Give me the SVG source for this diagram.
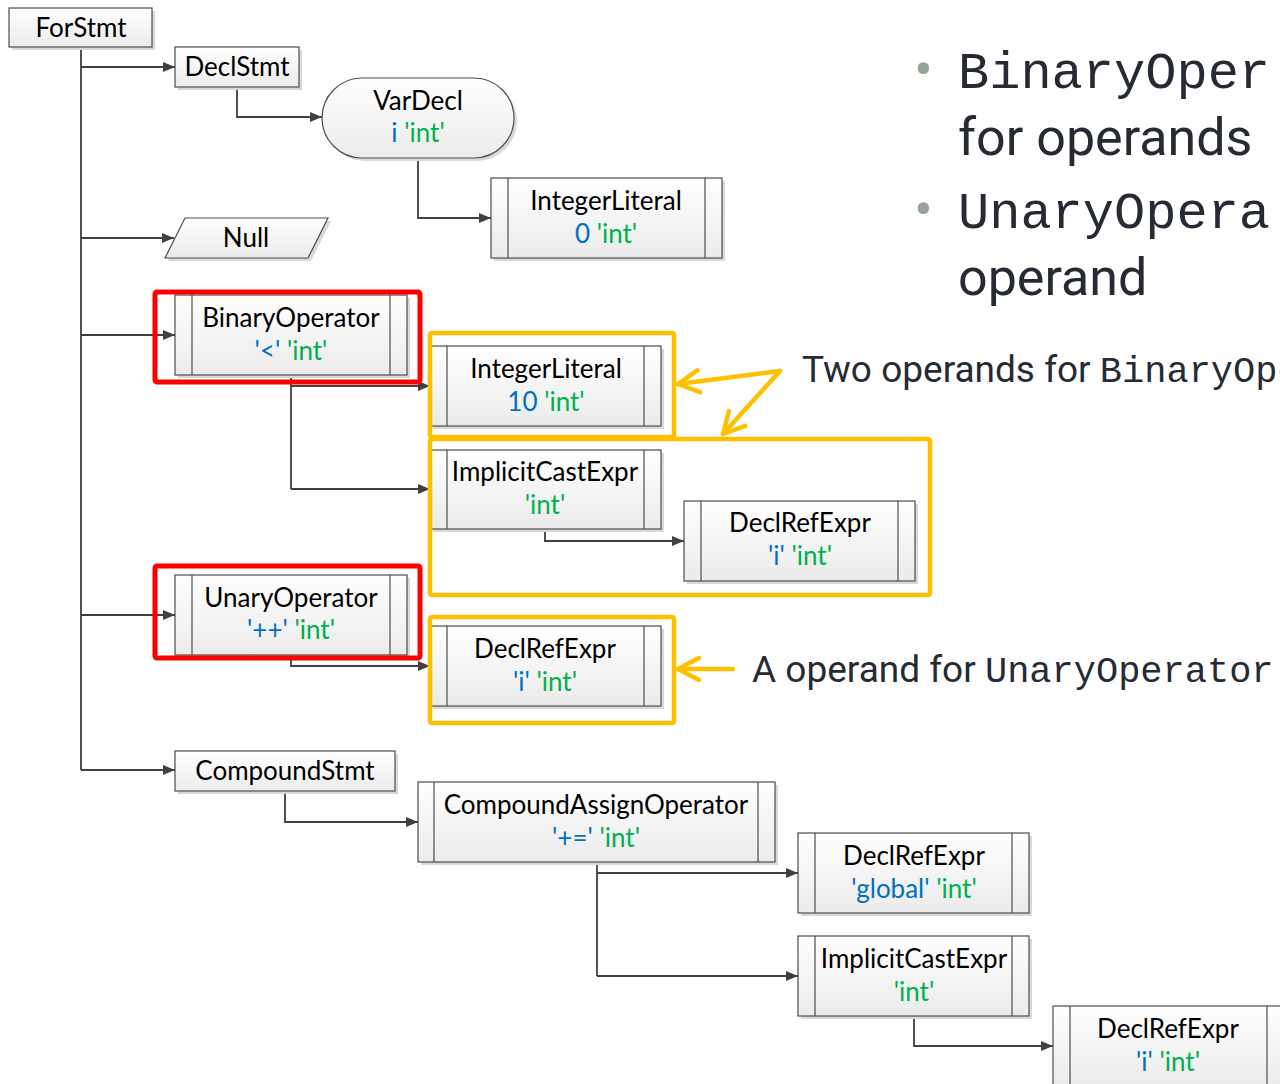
<svg xmlns="http://www.w3.org/2000/svg" width="1280" height="1084" viewBox="0 0 1280 1084">
  <defs>
    <linearGradient id="boxFill" x1="0" y1="0" x2="0" y2="1">
      <stop offset="0" stop-color="#ffffff"/>
      <stop offset="1" stop-color="#ebebeb"/>
    </linearGradient>
    <marker id="arrow" viewBox="0 0 12 10" refX="12" refY="5" markerWidth="12" markerHeight="10" markerUnits="userSpaceOnUse" orient="auto">
      <path d="M0,0 L12,5 L0,10 z" fill="#404040"/>
    </marker>
    <marker id="chevron" viewBox="-26 -14 30 28" refX="0" refY="0" markerWidth="30" markerHeight="28" markerUnits="userSpaceOnUse" orient="auto">
      <path d="M-21,-11 L0,0 L-21,11" fill="none" stroke="#FFC000" stroke-width="4.5" stroke-linecap="round" stroke-linejoin="round"/>
    </marker>
  </defs>
  <style>
    .box { fill: url(#boxFill); stroke: #4d4d4d; stroke-width: 1.2; }
    .shadow { fill: #d9d9d9; }
    .bar { stroke: #4d4d4d; stroke-width: 1.2; }
    .lbl { font-family: Lato, "Liberation Sans", sans-serif; font-size: 26px; fill: #000; text-anchor: middle; }
    .blue { fill: #0070C0; }
    .green { fill: #00B050; }
    .edge { fill: none; stroke: #404040; stroke-width: 1.8; }
    .edge-arrow { fill: none; stroke: #404040; stroke-width: 1.8; marker-end: url(#arrow); }
    .red { fill: none; stroke: #FF0000; stroke-width: 5; }
    .yellow { fill: none; stroke: #FFC000; stroke-width: 4.5; }
    .callout { fill: none; stroke: #FFC000; stroke-width: 4.5; stroke-linecap: round; stroke-linejoin: round; }
    .note { font-family: Roboto, "Liberation Sans", sans-serif; fill: #262a33; }
    .mono { font-family: "Liberation Mono", "Courier New", monospace; }
    .bullet { font-family: Roboto, "Liberation Sans", sans-serif; fill: #97a397; }
  </style>

  <!-- tree connectors -->
  <g id="connectors">
    <path class="edge" d="M81,47 V770"/>
    <path class="edge-arrow" d="M81,67 H175"/>
    <path class="edge-arrow" d="M81,238 H174"/>
    <path class="edge-arrow" d="M81,335 H175"/>
    <path class="edge-arrow" d="M81,615 H175"/>
    <path class="edge-arrow" d="M81,770 H175"/>
    <path class="edge-arrow" d="M237,87 V117 H322"/>
    <path class="edge-arrow" d="M418,158 V218 H491"/>
    <path class="edge" d="M291,375 V489"/>
    <path class="edge-arrow" d="M291,386 H430"/>
    <path class="edge-arrow" d="M291,489 H430"/>
    <path class="edge-arrow" d="M545,529 V541 H684"/>
    <path class="edge-arrow" d="M291,655 V666 H430"/>
    <path class="edge-arrow" d="M285,791 V822 H418"/>
    <path class="edge" d="M597,862 V976"/>
    <path class="edge-arrow" d="M597,873 H798"/>
    <path class="edge-arrow" d="M597,976 H798"/>
    <path class="edge-arrow" d="M914,1016 V1046 H1053"/>
  </g>

  <!-- statement and expression boxes -->
  <g id="forstmt">
    <rect class="shadow" x="12" y="11" width="143" height="39"/>
    <rect class="box" x="9" y="8" width="143" height="39"/>
    <text class="lbl" x="81" y="37">ForStmt</text>
  </g>
  <g id="declstmt">
    <rect class="shadow" x="178" y="50" width="124" height="40"/>
    <rect class="box" x="175" y="47" width="124" height="40"/>
    <text class="lbl" x="237" y="76">DeclStmt</text>
  </g>
  <g id="vardecl">
    <rect class="shadow" x="325" y="81" width="192" height="80" rx="40"/>
    <rect class="box" x="322" y="78" width="192" height="80" rx="40"/>
    <text class="lbl" x="418" y="110">VarDecl</text>
    <text class="lbl" x="418" y="142"><tspan class="blue">i</tspan> <tspan class="green">'int'</tspan></text>
  </g>
  <g id="intlit0">
    <rect class="shadow" x="494" y="181" width="231" height="80"/>
    <rect class="box" x="491" y="178" width="231" height="80"/>
    <path class="bar" d="M508,178 V258 M705,178 V258"/>
    <text class="lbl" x="606" y="210">IntegerLiteral</text>
    <text class="lbl" x="606" y="243"><tspan class="blue">0</tspan> <tspan class="green">'int'</tspan></text>
  </g>
  <g id="null">
    <path class="shadow" d="M188,221 L331,221 L311,261 L168,261 z"/>
    <path class="box" d="M185,218 L328,218 L308,258 L165,258 z"/>
    <text class="lbl" x="246" y="247">Null</text>
  </g>
  <g id="binop">
    <rect class="shadow" x="178" y="298" width="232" height="80"/>
    <rect class="box" x="175" y="295" width="232" height="80"/>
    <path class="bar" d="M192,295 V375 M390,295 V375"/>
    <text class="lbl" x="291" y="327">BinaryOperator</text>
    <text class="lbl" x="291" y="360"><tspan class="blue">'&lt;'</tspan> <tspan class="green">'int'</tspan></text>
  </g>
  <g id="intlit10">
    <rect class="shadow" x="433" y="349" width="231" height="80"/>
    <rect class="box" x="430" y="346" width="231" height="80"/>
    <path class="bar" d="M447,346 V426 M644,346 V426"/>
    <text class="lbl" x="546" y="378">IntegerLiteral</text>
    <text class="lbl" x="546" y="411"><tspan class="blue">10</tspan> <tspan class="green">'int'</tspan></text>
  </g>
  <g id="cast1">
    <rect class="shadow" x="433" y="453" width="231" height="79"/>
    <rect class="box" x="430" y="450" width="231" height="79"/>
    <path class="bar" d="M447,450 V529 M644,450 V529"/>
    <text class="lbl" x="545" y="481">ImplicitCastExpr</text>
    <text class="lbl" x="545" y="514"><tspan class="green">'int'</tspan></text>
  </g>
  <g id="declref1">
    <rect class="shadow" x="687" y="504" width="231" height="80"/>
    <rect class="box" x="684" y="501" width="231" height="80"/>
    <path class="bar" d="M701,501 V581 M898,501 V581"/>
    <text class="lbl" x="800" y="532">DeclRefExpr</text>
    <text class="lbl" x="800" y="565"><tspan class="blue">'i'</tspan> <tspan class="green">'int'</tspan></text>
  </g>
  <g id="unop">
    <rect class="shadow" x="178" y="578" width="232" height="80"/>
    <rect class="box" x="175" y="575" width="232" height="80"/>
    <path class="bar" d="M192,575 V655 M390,575 V655"/>
    <text class="lbl" x="291" y="607">UnaryOperator</text>
    <text class="lbl" x="291" y="639"><tspan class="blue">'++'</tspan> <tspan class="green">'int'</tspan></text>
  </g>
  <g id="declref2">
    <rect class="shadow" x="433" y="629" width="231" height="80"/>
    <rect class="box" x="430" y="626" width="231" height="80"/>
    <path class="bar" d="M447,626 V706 M644,626 V706"/>
    <text class="lbl" x="545" y="658">DeclRefExpr</text>
    <text class="lbl" x="545" y="691"><tspan class="blue">'i'</tspan> <tspan class="green">'int'</tspan></text>
  </g>
  <g id="compoundstmt">
    <rect class="shadow" x="178" y="754" width="220" height="40"/>
    <rect class="box" x="175" y="751" width="220" height="40"/>
    <text class="lbl" x="285" y="780">CompoundStmt</text>
  </g>
  <g id="compoundassign">
    <rect class="shadow" x="421" y="785" width="357" height="80"/>
    <rect class="box" x="418" y="782" width="357" height="80"/>
    <path class="bar" d="M434,782 V862 M758,782 V862"/>
    <text class="lbl" x="596" y="814">CompoundAssignOperator</text>
    <text class="lbl" x="596" y="847"><tspan class="blue">'+='</tspan> <tspan class="green">'int'</tspan></text>
  </g>
  <g id="declrefglobal">
    <rect class="shadow" x="801" y="836" width="231" height="80"/>
    <rect class="box" x="798" y="833" width="231" height="80"/>
    <path class="bar" d="M815,833 V913 M1012,833 V913"/>
    <text class="lbl" x="914" y="865">DeclRefExpr</text>
    <text class="lbl" x="914" y="898"><tspan class="blue">'global'</tspan> <tspan class="green">'int'</tspan></text>
  </g>
  <g id="cast2">
    <rect class="shadow" x="801" y="939" width="231" height="80"/>
    <rect class="box" x="798" y="936" width="231" height="80"/>
    <path class="bar" d="M815,936 V1016 M1012,936 V1016"/>
    <text class="lbl" x="914" y="968">ImplicitCastExpr</text>
    <text class="lbl" x="914" y="1001"><tspan class="green">'int'</tspan></text>
  </g>
  <g id="declref3">
    <rect class="shadow" x="1056" y="1009" width="231" height="80"/>
    <rect class="box" x="1053" y="1006" width="231" height="80"/>
    <path class="bar" d="M1070,1006 V1086 M1267,1006 V1086"/>
    <text class="lbl" x="1168" y="1038">DeclRefExpr</text>
    <text class="lbl" x="1168" y="1071"><tspan class="blue">'i'</tspan> <tspan class="green">'int'</tspan></text>
  </g>

  <!-- highlight frames -->
  <g id="highlights">
    <rect class="red" x="155" y="292" width="265" height="90" rx="2"/>
    <rect class="red" x="155" y="566" width="265" height="92" rx="2"/>
    <rect class="yellow" x="430" y="333" width="244" height="104" rx="2"/>
    <rect class="yellow" x="430" y="439" width="500" height="156" rx="2"/>
    <rect class="yellow" x="430" y="617" width="244" height="106" rx="2"/>
  </g>

  <!-- callout arrows -->
  <g id="callouts">
    <path class="callout" d="M780,371 L678,384" marker-end="url(#chevron)"/>
    <path class="callout" d="M780,371 L723,434" marker-end="url(#chevron)"/>
    <path class="callout" d="M733,669 L678,669" marker-end="url(#chevron)"/>
  </g>

  <!-- annotation text -->
  <g id="notes">
    <text class="note" x="802" y="382" font-size="37">Two operands for <tspan class="mono">BinaryOpe</tspan></text>
    <text class="note" x="752" y="682" font-size="37">A operand for <tspan class="mono">UnaryOperator</tspan></text>
    <text class="bullet" x="914" y="89" font-size="56">•</text>
    <text class="note mono" x="958" y="88" font-size="52">BinaryOper</text>
    <text class="note" x="958" y="155" font-size="52">for operands</text>
    <text class="bullet" x="914" y="229" font-size="56">•</text>
    <text class="note mono" x="958" y="228" font-size="52">UnaryOpera</text>
    <text class="note" x="958" y="295" font-size="52">operand</text>
  </g>
</svg>
